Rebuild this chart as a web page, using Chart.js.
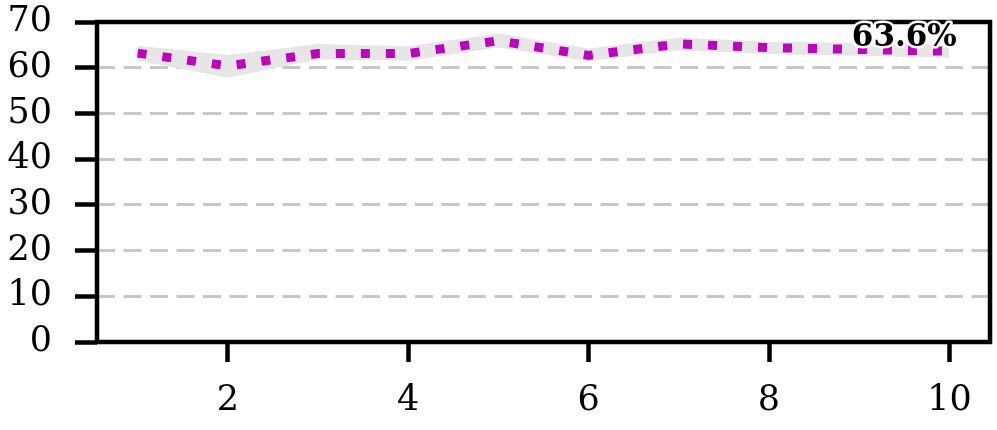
<!DOCTYPE html>
<html lang="en">
<head>
    <meta charset="UTF-8">
    <title>Chart</title>
    <script src="https://cdn.jsdelivr.net/npm/chart.js"></script>
    <style>
        html, body { margin: 0; padding: 0; background: #fff; }
        #wrap { width: 997px; height: 430px; }
    </style>
</head>
<body>
    <div id="wrap"><canvas id="grafico"></canvas></div>

    <script>
        // data
        const steps = [1, 2, 3, 4, 5, 6, 7, 8, 9, 10];
        const mean = [63.2, 60.4, 63.1, 63.1, 65.9, 62.7, 65.2, 64.4, 64.0, 63.6];
        const upper = [64.8, 62.8, 65.2, 64.7, 67.5, 64.2, 66.6, 65.7, 65.4, 65.0];
        const lower = [61.6, 57.8, 61.8, 61.5, 64.4, 61.4, 63.8, 63.0, 62.6, 62.2];
        const xTicks = [2, 4, 6, 8, 10];
        const yTicks = [0, 10, 20, 30, 40, 50, 60, 70];
        const endLabel = "63.6%";
        const endLabelX = 9.5;
        const endLabelY = 63.6;

        const fonte = "DejaVu Serif";

        function pontos(vals) {
            return steps.map((s, i) => ({ x: s, y: vals[i] }));
        }

        // frame on all four sides + end label
        const moldura = {
            id: "moldura",
            afterDraw(chart) {
                const { ctx, chartArea: a, scales } = chart;
                ctx.save();
                ctx.strokeStyle = "#000";
                ctx.lineWidth = 4.5;
                ctx.strokeRect(a.left, a.top, a.right - a.left, a.bottom - a.top);

                const px = scales.x.getPixelForValue(endLabelX);
                const py = scales.y.getPixelForValue(endLabelY) - 5;
                ctx.font = "bold 31px '" + fonte + "'";
                ctx.textAlign = "center";
                ctx.textBaseline = "alphabetic";
                ctx.lineJoin = "round";
                ctx.strokeStyle = "#fff";
                ctx.lineWidth = 5;
                ctx.strokeText(endLabel, px, py);
                ctx.fillStyle = "#000";
                ctx.fillText(endLabel, px, py);
                ctx.restore();
            }
        };

        new Chart(document.getElementById("grafico"), {
            type: "line",
            data: {
                datasets: [
                    {
                        data: pontos(upper),
                        borderWidth: 0,
                        pointRadius: 0,
                        backgroundColor: "#e6e6e6",
                        fill: "+1",
                        tension: 0,
                        order: 2
                    },
                    {
                        data: pontos(lower),
                        borderWidth: 0,
                        pointRadius: 0,
                        fill: false,
                        tension: 0,
                        order: 2
                    },
                    {
                        data: pontos(mean),
                        borderColor: "#bf00bf",
                        borderWidth: 9,
                        borderDash: [9, 16],
                        borderCapStyle: "butt",
                        pointRadius: 0,
                        fill: false,
                        tension: 0,
                        order: 1
                    }
                ]
            },
            options: {
                responsive: true,
                maintainAspectRatio: false,
                animation: false,
                layout: { padding: { top: 22, right: 7, left: 0, bottom: 0 } },
                plugins: {
                    legend: { display: false },
                    tooltip: { enabled: false }
                },
                scales: {
                    x: {
                        type: "linear",
                        min: 0.55,
                        max: 10.45,
                        afterBuildTicks: s => { s.ticks = xTicks.map(v => ({ value: v })); },
                        afterFit: s => { s.height = 88; s.paddingLeft = 0; s.paddingRight = 0; },
                        border: { display: false },
                        grid: {
                            drawOnChartArea: false,
                            drawTicks: true,
                            tickLength: 20,
                            tickWidth: 4.5,
                            tickColor: "#000"
                        },
                        ticks: {
                            padding: 21,
                            autoSkip: false,
                            maxRotation: 0,
                            color: "#000",
                            font: { family: fonte, size: 35, lineHeight: 1 },
                            callback: v => v
                        }
                    },
                    y: {
                        min: 0,
                        max: 70,
                        afterBuildTicks: s => { s.ticks = yTicks.map(v => ({ value: v })); },
                        afterFit: s => { s.width = 97; s.paddingTop = 0; s.paddingBottom = 0; },
                        border: { display: false, dash: [18, 8.5] },
                        grid: {
                            color: "#c8c8c8",
                            lineWidth: 3,
                            drawTicks: true,
                            tickLength: 22,
                            tickWidth: 4.5,
                            tickColor: "#000",
                            tickBorderDash: []
                        },
                        ticks: {
                            padding: 23,
                            autoSkip: false,
                            color: "#000",
                            font: { family: fonte, size: 35, lineHeight: 1 },
                            callback: v => v
                        }
                    }
                }
            },
            plugins: [moldura]
        });
    </script>
</body>
</html>
